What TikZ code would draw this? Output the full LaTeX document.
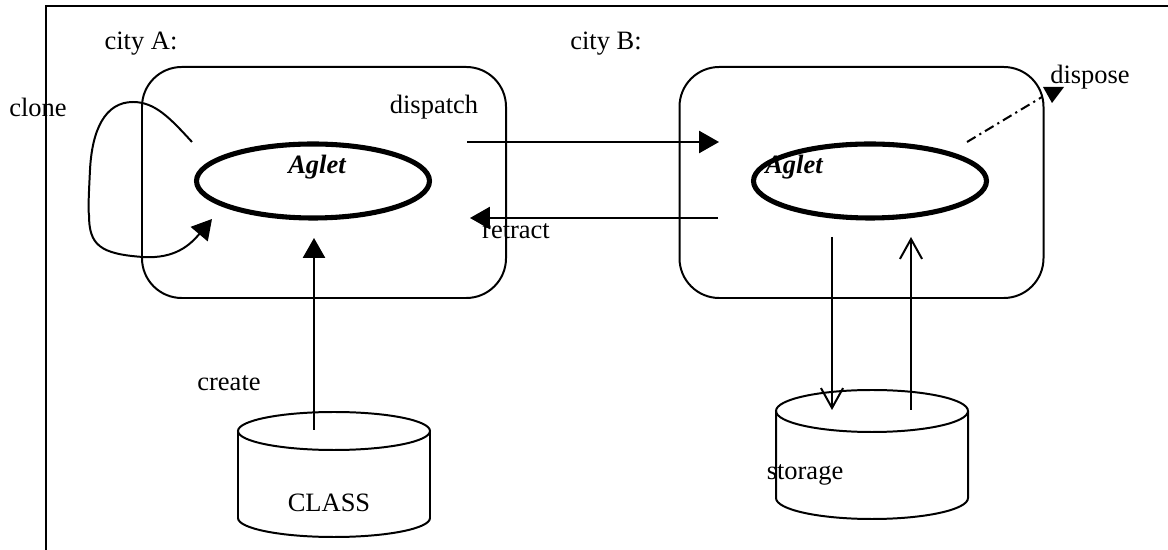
\documentclass[tikz,border=0pt]{standalone}
\usepackage{fontspec}
\setmainfont{Liberation Serif}
\usetikzlibrary{arrows.meta,shapes.geometric}
\newcommand\pxu{0.453pt}
\begin{document}
\begin{tikzpicture}[x=\pxu, y=\pxu,
  wire/.style={line width=0.9pt},
  citybox/.style={draw, rectangle, rounded corners=18pt, line width=0.9pt,
    minimum width=364*\pxu, minimum height=231*\pxu, inner sep=0pt},
  agletring/.style={draw, ellipse, line width=2.3pt,
    minimum width=233*\pxu, minimum height=74*\pxu, inner sep=0pt},
  lbl/.style={font=\fontsize{12}{14}\selectfont, inner sep=0pt},
  agtext/.style={font=\fontsize{12}{14}\selectfont\bfseries\itshape, inner sep=0pt},
  solidarrow/.style={wire, -{Triangle[length=9pt,width=10pt]}},
  openarrow/.style={wire, -{Straight Barb[length=9pt,width=10pt]}},
  dashdot/.style={wire, dash pattern=on 4.5pt off 2pt on 1pt off 2pt}]

\useasboundingbox (0,0) rectangle (1168,550);

% outer frame (top and left edges)
\draw[wire] (46,0) -- (46,544) -- (1168,544);

% the two hosts
\node[citybox] (boxA) at (324,367.5) {};
\node[citybox] (boxB) at (861.5,367.5) {};
\node[lbl] (cityA) at (141,506) {city A:};
\node[lbl] (cityB) at (606,506) {city B:};

% aglets
\node[agletring] (agA) at (313,369) {};
\node[agletring] (agB) at (870,369) {};
\node[agtext] (agAtext) at (317,383) {Aglet};
\node[agtext] (agBtext) at (794,383) {Aglet};

% class repository cylinder
\draw[wire] (334,119) ellipse [x radius=96*\pxu, y radius=19*\pxu];
\draw[wire] (238,119) -- (238,32)
  arc[start angle=180, end angle=360, x radius=96*\pxu, y radius=19*\pxu] -- (430,119);
\node[lbl] (classlbl) at (329,47) {CLASS};

% storage cylinder
\draw[wire] (872,139) ellipse [x radius=96*\pxu, y radius=21*\pxu];
\draw[wire] (776,139) -- (776,52)
  arc[start angle=180, end angle=360, x radius=96*\pxu, y radius=21*\pxu] -- (968,139);
\node[lbl] (storelbl) at (805,75) {storage};

% connector end points
\coordinate (dispS) at (467,408);
\coordinate (dispE) at (719,408);
\coordinate (retrS) at (718,332);
\coordinate (retrE) at (470,332);
\coordinate (createS) at (314,120);
\coordinate (createE) at (314,312);
\coordinate (downS) at (832,313);
\coordinate (downE) at (832,140);
\coordinate (upS) at (911,140);
\coordinate (upE) at (911,313);
\coordinate (cloneS) at (192,408);
\coordinate (cloneE) at (212,331);
\coordinate (dispoS) at (967,408);
\coordinate (dispoE) at (1042,453);

% operations
\draw[solidarrow] (dispS) -- (dispE);
\draw[solidarrow] (retrS) -- (retrE);
\draw[solidarrow] (createS) -- (createE);
\draw[openarrow] (downS) -- (downE);
\draw[openarrow] (upS) -- (upE);
\draw[solidarrow] (cloneS) .. controls (170,432) and (155,448) .. (133,448)
  .. controls (105,448) and (92,420) .. (90,380)
  .. controls (89,360) and (88,340) .. (89,335)
  .. controls (89,305) and (100,296) .. (143,293)
  .. controls (175,291) and (190,305) .. (cloneE);
\draw[dashdot] (dispoS) -- (dispoE);
\fill (1043,463) -- (1064,463) -- (1052,447) -- cycle;

% operation labels
\node[lbl] (clonelbl) at (38,443) {clone};
\node[lbl] (displbl) at (434,443) {dispatch};
\node[lbl] (retrlbl) at (516,319) {retract};
\node[lbl] (dispolbl) at (1090,473) {dispose};
\node[lbl] (createlbl) at (229,167) {create};

\end{tikzpicture}
\end{document}
